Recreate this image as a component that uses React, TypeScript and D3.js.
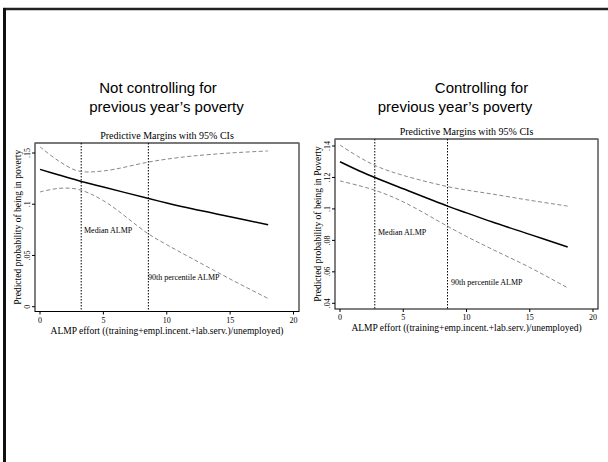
import React from "react";
import * as d3 from "d3";

const xs = [0, 1.5, 3, 5, 8.5, 10, 12, 15, 18];

// left panel: not controlling for previous year's poverty
const leftMargin = [0.134, 0.1285, 0.1232, 0.1168, 0.1058, 0.1012, 0.0955, 0.0878, 0.08];
const leftUpper = [0.156, 0.142, 0.1325, 0.1325, 0.141, 0.144, 0.147, 0.15, 0.152];
const leftLower = [0.112, 0.1155, 0.1145, 0.1035, 0.0715, 0.0605, 0.047, 0.027, 0.008];

// right panel: controlling for previous year's poverty
const rightMargin = [0.13, 0.1243, 0.1192, 0.1128, 0.1018, 0.0975, 0.0918, 0.0838, 0.0758];
const rightUpper = [0.1406, 0.133, 0.1268, 0.1213, 0.1142, 0.112, 0.1095, 0.1055, 0.1018];
const rightLower = [0.1178, 0.1148, 0.1112, 0.1045, 0.089, 0.0825, 0.0745, 0.0628, 0.0498];

const xTicks = [0, 5, 10, 15, 20];
const leftYTicks = [0, 0.05, 0.1, 0.15];
const rightYTicks = [0.04, 0.06, 0.08, 0.1, 0.12, 0.14];

const leftMedian = 3.25;
const leftP90 = 8.55;
const rightMedian = 2.75;
const rightP90 = 8.5;

const serif = "'Liberation Serif', 'DejaVu Serif', serif";
const sans = "'Liberation Sans', Arial, sans-serif";

const fmt = (v: number) => (v === 0 ? "0" : String(v).replace(/^0/, ""));

const Panel = props => {
  const { frame, xRange, yDomain, yRange, yTicks, mid, low, up, median, p90, yLabel, xLabel, titleY, medianPos, p90Pos } = props;
  const x = d3.scaleLinear().domain([0, 20]).range(xRange);
  const y = d3.scaleLinear().domain(yDomain).range(yRange);
  const line = d3
    .line<number>()
    .x((d, i) => x(xs[i]))
    .y(d => y(d))
    .curve(d3.curveCatmullRom.alpha(0.5));
  const [fl, ft, fr, fb] = frame;
  const cx = (fl + fr) / 2;
  return (
    <g>
      <text x={cx} y={titleY} textAnchor="middle" fontFamily={serif} fontSize={10}>
        Predictive Margins with 95% CIs
      </text>
      <rect x={fl} y={ft} width={fr - fl} height={fb - ft} fill="white" stroke="black" strokeWidth={1} />
      <line x1={fl} x2={fr} y1={ft} y2={ft} stroke="#777" strokeWidth={1.5} />
      {[median, p90].map((v, i) => (
        <line key={i} x1={x(v)} x2={x(v)} y1={ft} y2={fb} stroke="black" strokeWidth={1} strokeDasharray="1.5,1.5" />
      ))}
      <path d={line(up)} fill="none" stroke="#888" strokeWidth={1} strokeDasharray="4,2.5" />
      <path d={line(low)} fill="none" stroke="#888" strokeWidth={1} strokeDasharray="4,2.5" />
      <path d={line(mid)} fill="none" stroke="black" strokeWidth={1.5} />
      <text x={medianPos[0]} y={medianPos[1]} fontFamily={serif} fontSize={8}>Median ALMP</text>
      <text x={p90Pos[0]} y={p90Pos[1]} fontFamily={serif} fontSize={8}>90th percentile ALMP</text>
      {xTicks.map(t => (
        <g key={t}>
          <line x1={x(t)} x2={x(t)} y1={fb} y2={fb + 3} stroke="black" />
          <text x={x(t)} y={fb + 11} textAnchor="middle" fontFamily={serif} fontSize={8}>{t}</text>
        </g>
      ))}
      {yTicks.map(t => (
        <g key={t}>
          <line x1={fl - 3} x2={fl} y1={y(t)} y2={y(t)} stroke="black" />
          <text
            transform={`translate(${fl - 5},${y(t)}) rotate(-90)`}
            textAnchor="middle"
            fontFamily={serif}
            fontSize={8}
          >
            {fmt(t)}
          </text>
        </g>
      ))}
      <text
        transform={`translate(${fl - 14},${(ft + fb) / 2}) rotate(-90)`}
        textAnchor="middle"
        fontFamily={serif}
        fontSize={9.5}
      >
        {yLabel}
      </text>
      <text x={cx} y={fb + 22} textAnchor="middle" fontFamily={serif} fontSize={9.5}>
        {xLabel}
      </text>
    </g>
  );
};

export default function App() {
  return (
    <svg width={608} height={462} style={{ position: "absolute", left: 0, top: 0, background: "white" }}>
      <rect x={0} y={0} width={608} height={462} fill="white" />
      <line x1={3} x2={608} y1={9} y2={9} stroke="#222" strokeWidth={2.5} />
      <line x1={4.5} x2={4.5} y1={8} y2={462} stroke="#111" strokeWidth={3} />

      <text fontFamily={sans} fontSize={15} textAnchor="middle">
        <tspan x={158} y={93}>Not controlling for</tspan>
        <tspan x={166.5} y={112}>previous year’s poverty</tspan>
      </text>
      <text fontFamily={sans} fontSize={15} textAnchor="middle">
        <tspan x={481.5} y={93}>Controlling for</tspan>
        <tspan x={455} y={112}>previous year’s poverty</tspan>
      </text>

      <Panel
        frame={[35, 143, 299, 311.5]}
        xRange={[40, 293.5]}
        yDomain={[0, 0.15]}
        yRange={[306.7, 153]}
        yTicks={leftYTicks}
        mid={leftMargin}
        low={leftLower}
        up={leftUpper}
        median={leftMedian}
        p90={leftP90}
        titleY={138.5}
        medianPos={[84, 233]}
        p90Pos={[148, 280]}
        yLabel="Predicted probability of being in poverty"
        xLabel="ALMP effort ((training+empl.incent.+lab.serv.)/unemployed)"
      />
      <Panel
        frame={[335, 139, 598, 309]}
        xRange={[340, 593]}
        yDomain={[0.04, 0.14]}
        yRange={[303.3, 146]}
        yTicks={rightYTicks}
        mid={rightMargin}
        low={rightLower}
        up={rightUpper}
        median={rightMedian}
        p90={rightP90}
        titleY={134.5}
        medianPos={[378, 235]}
        p90Pos={[451, 285]}
        yLabel="Predicted probability of being in Poverty"
        xLabel="ALMP effort ((training+emp.incent.+lab.serv.)/unemployed)"
      />
    </svg>
  );
}
